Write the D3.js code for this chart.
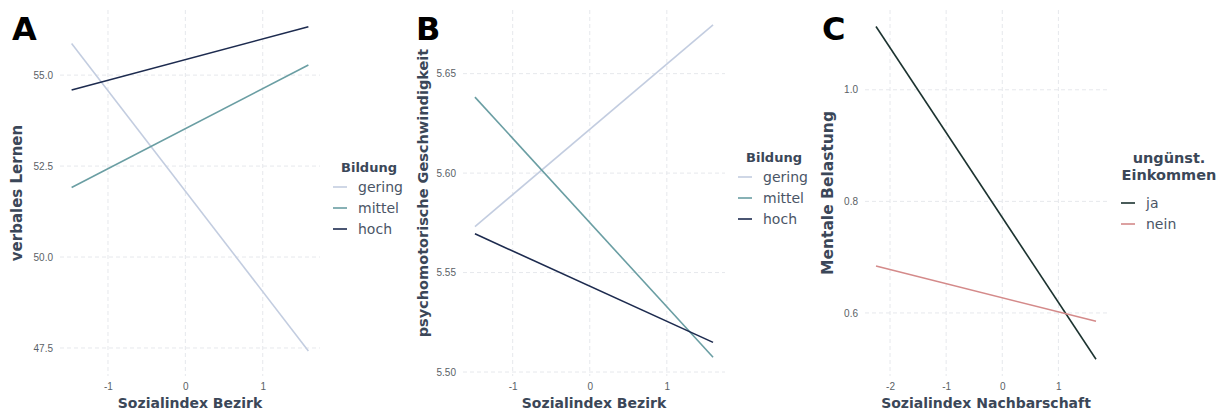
<!DOCTYPE html>
<html>
<head>
<meta charset="utf-8">
<script src="https://cdn.jsdelivr.net/npm/d3@7"></script>
<style>
  body { margin: 0; background: #fff; }
  svg { font-family: "DejaVu Sans", sans-serif; }
</style>
</head>
<body>
<div class="canvas"></div>
<script>
// data: start / end points of each fitted line
const bildung = ['gering', 'mittel', 'hoch'];
const einkommen = ['ja', 'nein'];

const xA = [-1.47, 1.59];
const gerA = [55.87, 47.42];
const mitA = [51.91, 55.28];
const hocA = [54.59, 56.33];
const ticksA = [47.5, 50.0, 52.5, 55.0];

const xB = [-1.49, 1.60];
const gerB = [5.5731, 5.6745];
const mitB = [5.6382, 5.5074];
const hocB = [5.5695, 5.5149];
const ticksB = [5.50, 5.55, 5.60, 5.65];

const xC = [-2.25, 1.67];
const jaC = [1.1135, 0.517];
const neinC = [0.684, 0.585];
const ticksC = [0.6, 0.8, 1.0];

const xTicksAB = [-1, 0, 1];
const xTicksC = [-2, -1, 0, 1];

const colBildung = ['#c3cde0', '#6a9ea3', '#1d2b4f'];
const colEink = ['#1c3330', '#d48a8a'];

const svg = d3.select('.canvas')
    .append('svg')
    .attr('width', 1225)
    .attr('height', 412);

const panels = [
  {
    label: 'A', left: 60, right: 320, xDom: [-1.62, 1.74], yDom: [46.73, 56.79],
    xs: xA, series: [gerA, mitA, hocA], names: bildung, colors: colBildung,
    yTicks: ticksA, yFmt: d3.format('.1f'), xTicks: xTicksAB,
    xTitle: 'Sozialindex Bezirk', yTitle: 'verbales Lernen', yTitleX: 17, yTitleSize: 15,
    labelX: 12, legX: 333, legTitle: ['Bildung'], legY: 167, legSize: 13
  },
  {
    label: 'B', left: 463, right: 725, xDom: [-1.645, 1.755], yDom: [5.498, 5.682],
    xs: xB, series: [gerB, mitB, hocB], names: bildung, colors: colBildung,
    yTicks: ticksB, yFmt: d3.format('.2f'), xTicks: xTicksAB,
    xTitle: 'Sozialindex Bezirk', yTitle: 'psychomotorische Geschwindigkeit', yTitleX: 423, yTitleSize: 14.5,
    labelX: 416, legX: 738, legTitle: ['Bildung'], legY: 157, legSize: 13
  },
  {
    label: 'C', left: 865, right: 1107, xDom: [-2.446, 1.866], yDom: [0.487, 1.143],
    xs: xC, series: [jaC, neinC], names: einkommen, colors: colEink,
    yTicks: ticksC, yFmt: d3.format('.1f'), xTicks: xTicksC,
    xTitle: 'Sozialindex Nachbarschaft', yTitle: 'Mentale Belastung', yTitleX: 828, yTitleSize: 15.5,
    labelX: 822, legX: 1121, legTitle: ['ungünst.', 'Einkommen'], legY: 158, legSize: 14.5
  }
];

const plotTop = 10, plotBottom = 376;

panels.forEach(p => {
  const x = d3.scaleLinear().domain(p.xDom).range([p.left, p.right]);
  const y = d3.scaleLinear().domain(p.yDom).range([plotBottom, plotTop]);
  const g = svg.append('g');

  // grid
  g.selectAll('.hg').data(p.yTicks).enter().append('line')
      .attr('x1', p.left).attr('x2', p.right)
      .attr('y1', d => y(d)).attr('y2', d => y(d))
      .attr('stroke', '#e6e8ec').attr('stroke-width', 1)
      .attr('stroke-dasharray', '4,3');
  g.selectAll('.vg').data(p.xTicks).enter().append('line')
      .attr('x1', d => x(d)).attr('x2', d => x(d))
      .attr('y1', plotTop).attr('y2', plotBottom)
      .attr('stroke', '#e6e8ec').attr('stroke-width', 1)
      .attr('stroke-dasharray', '4,3');

  // axes (text only)
  const yAxis = g.append('g')
      .attr('transform', `translate(${p.left - 4},0)`)
      .call(d3.axisLeft(y).tickValues(p.yTicks).tickFormat(p.yFmt).tickSize(0));
  const xAxis = g.append('g')
      .attr('transform', `translate(0,${plotBottom + 4})`)
      .call(d3.axisBottom(x).tickValues(p.xTicks).tickFormat(d => String(d)).tickSize(0));
  [xAxis, yAxis].forEach(a => {
    a.select('.domain').remove();
    a.selectAll('text').attr('fill', '#5a5f66').style('font-size', '10px');
  });

  // lines
  const line = d3.line().x((d, i) => x(p.xs[i])).y(d => y(d));
  g.selectAll('.ser').data(p.series).enter().append('path')
      .attr('d', line)
      .attr('fill', 'none')
      .attr('stroke', (d, i) => p.colors[i])
      .attr('stroke-width', 1.6);

  // axis titles
  g.append('text')
      .attr('x', (p.left + p.right) / 2).attr('y', 408)
      .attr('text-anchor', 'middle')
      .attr('fill', '#3b4758').attr('font-weight', 'bold')
      .style('font-size', '14px')
      .text(p.xTitle);
  g.append('text')
      .attr('transform', `translate(${p.yTitleX + 5},${(plotTop + plotBottom) / 2}) rotate(-90)`)
      .attr('text-anchor', 'middle')
      .attr('fill', '#3b4758').attr('font-weight', 'bold')
      .style('font-size', p.yTitleSize + 'px')
      .text(p.yTitle);

  // panel letter
  g.append('text')
      .attr('x', p.labelX).attr('y', 40)
      .attr('fill', '#000').attr('font-weight', 'bold')
      .style('font-size', '32px')
      .text(p.label);

  // legend
  const leg = g.append('g');
  leg.selectAll('.lt').data(p.legTitle).enter().append('text')
      .attr('x', p.legTitle.length > 1 ? p.legX + 48 : p.legX + 36)
      .attr('y', (d, i) => p.legY + 5 + i * 17)
      .attr('text-anchor', 'middle')
      .attr('fill', '#3b4758').attr('font-weight', 'bold')
      .style('font-size', p.legSize + 'px')
      .text(d => d);
  const y0 = p.legY + (p.legTitle.length > 1 ? 45 : 20);
  const items = leg.selectAll('.li').data(p.names).enter().append('g')
      .attr('transform', (d, i) => `translate(${p.legX},${y0 + i * 21})`);
  items.append('line')
      .attr('x1', 0).attr('x2', 14)
      .attr('stroke', (d, i) => p.colors[i]).attr('stroke-width', 1.6);
  items.append('text')
      .attr('x', 25).attr('y', 5)
      .attr('fill', '#4a5566')
      .style('font-size', '14px')
      .text(d => d);
});
</script>
</body>
</html>
